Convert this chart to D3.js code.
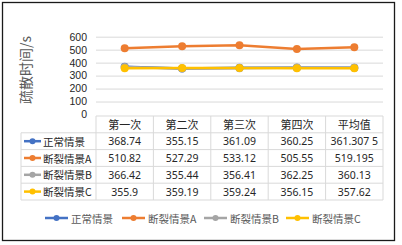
<!DOCTYPE html>
<meta charset="utf-8">
<style>
    body { margin: 0; background: #fff; }
    text { font-family: "Noto Sans CJK SC", "Noto Sans", sans-serif; }
</style>
<body>
<script src="https://d3js.org/d3.v7.min.js"></script>
<script>

    var categories = ["第一次", "第二次", "第三次", "第四次", "平均值"];
    var seriesNames = ["正常情景", "断裂情景A", "断裂情景B", "断裂情景C"];
    var normal = [368.74, 355.15, 361.09, 360.25, 361.3075];
    var caseA = [510.82, 527.29, 533.12, 505.55, 519.195];
    var caseB = [366.42, 355.44, 356.41, 362.25, 360.13];
    var caseC = [355.9, 359.19, 359.24, 356.15, 357.62];
    var cellLabels = [
        ["368.74", "355.15", "361.09", "360.25", "361.307 5"],
        ["510.82", "527.29", "533.12", "505.55", "519.195"],
        ["366.42", "355.44", "356.41", "362.25", "360.13"],
        ["355.9", "359.19", "359.24", "356.15", "357.62"]
    ];
    var yTicks = [0, 100, 200, 300, 400, 500, 600];
    var colors = ["#4472C4", "#ED7D31", "#A5A5A5", "#FFC000"];

    var width = 402, height = 245;
    var series = [normal, caseA, caseB, caseC];

    var svg = d3.select("body").append("svg")
        .attr("width", width)
        .attr("height", height);

    // outer frame
    svg.append("rect")
        .attr("x", 2.5).attr("y", 2.5)
        .attr("width", 392).attr("height", 238)
        .attr("fill", "#fff").attr("stroke", "#1a1a1a").attr("stroke-width", 1.3);

    var x = d3.scaleBand().domain(categories).range([96, 383]);
    var y = d3.scaleLinear().domain([0, 600]).range([114.5, 36.7]);

    // gridlines
    svg.append("g").selectAll("line")
        .data(yTicks.slice(1))
        .enter().append("line")
        .attr("x1", 96).attr("x2", 383)
        .attr("y1", function(d) { return y(d) + 0.5; })
        .attr("y2", function(d) { return y(d) + 0.5; })
        .attr("stroke", "#d9d9d9").attr("stroke-width", 1);

    var yAxis = svg.append("g")
        .attr("transform", "translate(90,0)")
        .call(d3.axisLeft(y).tickValues(yTicks).tickSize(0).tickPadding(3));
    yAxis.select(".domain").remove();
    yAxis.selectAll("text")
        .style("font-size", "10.5px")
        .style("font-family", "'Liberation Sans', 'Noto Sans', sans-serif")
        .attr("fill", "#262626");

    svg.append("text")
        .attr("transform", "translate(25,70) rotate(-90)")
        .attr("text-anchor", "middle")
        .attr("dominant-baseline", "central")
        .attr("fill", "#595959")
        .style("font-size", "14px")
        .text("疏散时间/s");

    var line = d3.line()
        .x(function(d, i) { return x(categories[i]) + x.bandwidth() / 2; })
        .y(function(d) { return y(d); });

    series.forEach(function(s, k) {
        var g = svg.append("g");
        g.append("path")
            .datum(s)
            .attr("d", line)
            .attr("fill", "none")
            .attr("stroke", colors[k])
            .attr("stroke-width", 2.5);
        g.selectAll("circle")
            .data(s)
            .enter().append("circle")
            .attr("cx", function(d, i) { return x(categories[i]) + x.bandwidth() / 2; })
            .attr("cy", function(d) { return y(d); })
            .attr("r", 4)
            .attr("fill", colors[k]);
    });

    // data table
    var tableTop = 116, rowH = 16.8, legendLeft = 21;
    var table = svg.append("g");
    var gridColor = "#d9d9d9";

    // horizontal lines
    table.append("line")
        .attr("x1", 96).attr("x2", 383)
        .attr("y1", tableTop).attr("y2", tableTop)
        .attr("stroke", gridColor);
    d3.range(1, seriesNames.length + 2).forEach(function(r) {
        table.append("line")
            .attr("x1", legendLeft).attr("x2", 383)
            .attr("y1", tableTop + r * rowH).attr("y2", tableTop + r * rowH)
            .attr("stroke", gridColor);
    });
    // vertical lines
    var bounds = x.domain().map(function(c) { return x(c); }).concat([383]);
    bounds.forEach(function(bx) {
        table.append("line")
            .attr("x1", bx).attr("x2", bx)
            .attr("y1", tableTop).attr("y2", tableTop + (seriesNames.length + 1) * rowH)
            .attr("stroke", gridColor);
    });
    table.append("line")
        .attr("x1", legendLeft).attr("x2", legendLeft)
        .attr("y1", tableTop + rowH).attr("y2", tableTop + (seriesNames.length + 1) * rowH)
        .attr("stroke", gridColor);

    table.selectAll("text.head")
        .data(categories)
        .enter().append("text")
        .attr("class", "head")
        .attr("x", function(d) { return x(d) + x.bandwidth() / 2; })
        .attr("y", tableTop + rowH / 2)
        .attr("text-anchor", "middle")
        .attr("dominant-baseline", "central")
        .attr("fill", "#262626")
        .style("font-size", "11px")
        .text(function(d) { return d; });

    seriesNames.forEach(function(name, k) {
        var cy = tableTop + (k + 1) * rowH + rowH / 2;
        table.append("line")
            .attr("x1", 24).attr("x2", 41)
            .attr("y1", cy).attr("y2", cy)
            .attr("stroke", colors[k]).attr("stroke-width", 2.5);
        table.append("circle")
            .attr("cx", 32.5).attr("cy", cy).attr("r", 3)
            .attr("fill", colors[k]);
        table.append("text")
            .attr("x", 43).attr("y", cy)
            .attr("dominant-baseline", "central")
            .attr("fill", "#262626")
            .style("font-size", "10.5px")
            .text(name);
        table.selectAll(null)
            .data(cellLabels[k])
            .enter().append("text")
            .attr("x", function(d, i) { return x(categories[i]) + x.bandwidth() / 2; })
            .attr("y", cy)
            .attr("text-anchor", "middle")
            .attr("dominant-baseline", "central")
            .attr("fill", "#262626")
            .style("font-size", "10.5px")
            .style("font-family", "'Noto Sans', sans-serif")
            .text(function(d) { return d; });
    });

    // legend
    var legendX = [45, 122, 204, 286];
    var legend = svg.append("g");
    seriesNames.forEach(function(name, k) {
        var lx = legendX[k], ly = 218;
        legend.append("line")
            .attr("x1", lx).attr("x2", lx + 23)
            .attr("y1", ly).attr("y2", ly)
            .attr("stroke", colors[k]).attr("stroke-width", 2.5);
        legend.append("circle")
            .attr("cx", lx + 11.5).attr("cy", ly).attr("r", 3)
            .attr("fill", colors[k]);
        legend.append("text")
            .attr("x", lx + 26).attr("y", ly)
            .attr("dominant-baseline", "central")
            .attr("fill", "#595959")
            .style("font-size", "10.5px")
            .text(name);
    });

</script>
